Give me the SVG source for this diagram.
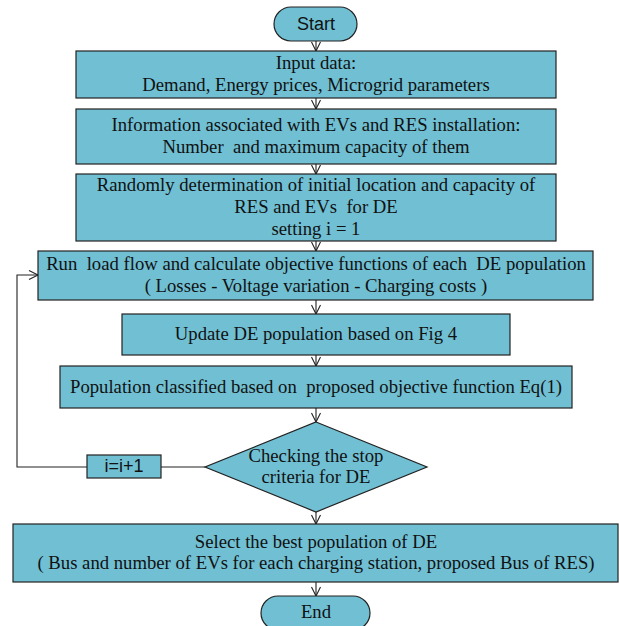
<svg xmlns="http://www.w3.org/2000/svg" width="619" height="626" viewBox="0 0 619 626">
<style>
.box{fill:#70bfd3;stroke:#222;stroke-width:1.2}
.t{font-family:"Liberation Serif","Times New Roman",serif;font-size:18.7px;fill:#111;text-anchor:middle}
.s{font-family:"Liberation Sans",Arial,sans-serif;font-size:18px;fill:#111;text-anchor:middle}
.c{fill:none;stroke:#222;stroke-width:1.1}
</style>
<defs>
<marker id="ah" markerWidth="12" markerHeight="12" refX="10" refY="6" orient="auto" markerUnits="userSpaceOnUse">
<path d="M1,1.5 L10,6 L1,10.5" fill="none" stroke="#222" stroke-width="1.1"/>
</marker>
</defs>
<g id="connectors" class="c">
<line x1="316" y1="41" x2="316" y2="51" marker-end="url(#ah)"/>
<line x1="316" y1="98" x2="316" y2="109" marker-end="url(#ah)"/>
<line x1="316" y1="164" x2="316" y2="174" marker-end="url(#ah)"/>
<line x1="316" y1="241" x2="316" y2="251" marker-end="url(#ah)"/>
<line x1="316" y1="300" x2="316" y2="314" marker-end="url(#ah)"/>
<line x1="316" y1="355" x2="316" y2="366" marker-end="url(#ah)"/>
<line x1="316" y1="408" x2="316" y2="422" marker-end="url(#ah)"/>
<line x1="316" y1="512" x2="316" y2="524" marker-end="url(#ah)"/>
<line x1="316" y1="582" x2="316" y2="596" marker-end="url(#ah)"/>
<line x1="205" y1="467" x2="161" y2="467"/>
<polyline points="87,467 17,467 17,275 38,275" marker-end="url(#ah)"/>
</g>
<g id="start">
<rect class="box" x="274" y="7" width="83" height="34" rx="17"/>
<text class="s" x="316" y="30">Start</text>
</g>
<g id="input">
<rect class="box" x="76" y="51" width="480" height="47"/>
<text class="t" x="316" y="69">Input data:</text>
<text class="t" x="316" y="91" fill="#333">Demand, Energy prices, Microgrid parameters</text>
</g>
<g id="info">
<rect class="box" x="76" y="109" width="480" height="55"/>
<text class="t" x="316" y="131">Information associated with EVs and RES installation:</text>
<text class="t" x="316" y="153" xml:space="preserve">Number  and maximum capacity of them</text>
</g>
<g id="random">
<rect class="box" x="76" y="174" width="480" height="67"/>
<text class="t" x="316" y="191">Randomly determination of initial location and capacity of</text>
<text class="t" x="316" y="213" xml:space="preserve">RES and EVs  for DE</text>
<text class="t" x="316" y="235">setting i = 1</text>
</g>
<g id="loadflow">
<rect class="box" x="38" y="251" width="555" height="49"/>
<text class="t" x="316" y="270" xml:space="preserve">Run  load flow and calculate objective functions of each  DE population</text>
<text class="t" x="316" y="292">( Losses - Voltage variation - Charging costs )</text>
</g>
<g id="update">
<rect class="box" x="122" y="314" width="388" height="41"/>
<text class="t" x="316" y="340">Update DE population based on Fig 4</text>
</g>
<g id="classify">
<rect class="box" x="60" y="366" width="512" height="42"/>
<text class="t" x="316" y="393" xml:space="preserve">Population classified based on  proposed objective function Eq(1)</text>
</g>
<g id="check">
<polygon class="box" points="316,422 427,467 316,512 205,467"/>
<text class="t" x="316" y="462">Checking the stop</text>
<text class="t" x="316" y="483">criteria for DE</text>
</g>
<g id="increment">
<rect class="box" x="87" y="455" width="74" height="23"/>
<text class="s" x="124" y="472">i=i+1</text>
</g>
<g id="select">
<rect class="box" x="13" y="524" width="605" height="58"/>
<text class="t" x="316" y="548">Select the best population of DE</text>
<text class="t" x="316" y="569">( Bus and number of EVs for each charging station, proposed Bus of RES)</text>
</g>
<g id="end">
<rect class="box" x="261" y="596" width="109" height="34" rx="17"/>
<text class="t" x="316" y="618">End</text>
</g>
</svg>
